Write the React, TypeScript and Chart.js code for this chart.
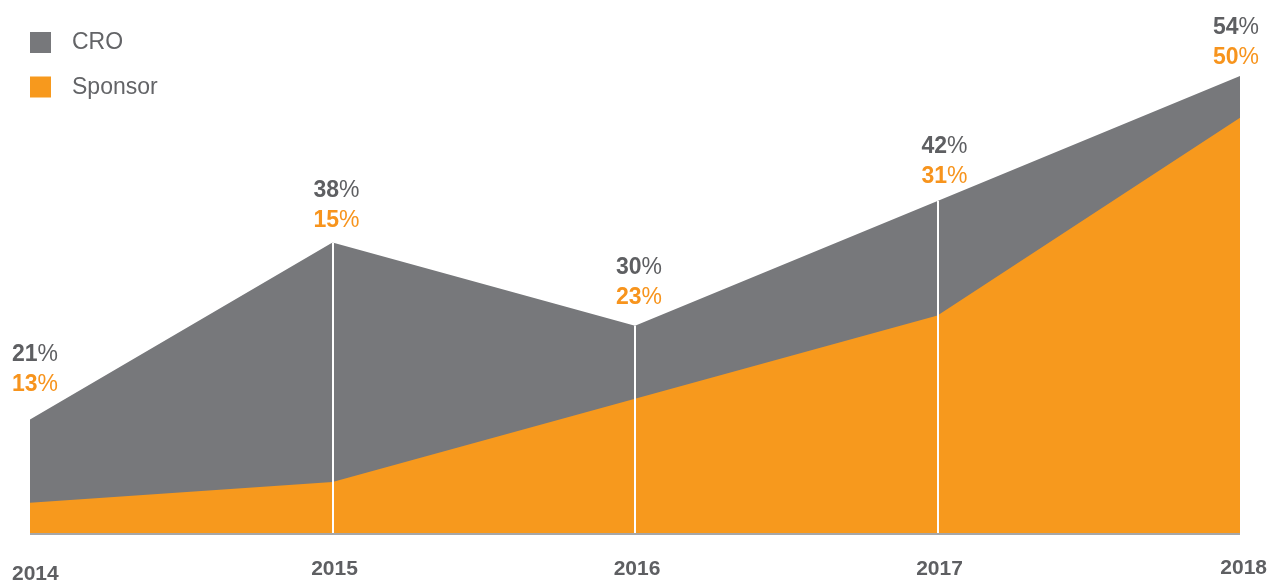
import React, { useEffect, useRef } from "react";
import { Chart, registerables } from "chart.js";

Chart.register(...registerables);

const years = ["2014", "2015", "2016", "2017", "2018"];
const croValues = [21, 38, 30, 42, 54];
const sponsorValues = [13, 15, 23, 31, 50];
const seriesNames = ["CRO", "Sponsor"];

const GRAY = "#77787b";
const ORANGE = "#f7991d";
const TEXT_GRAY = "#5e5f62";
const TEXT_ORANGE = "#f7941d";
const FONT = "'Liberation Sans', Arial, sans-serif";

// pixel nudges for value labels (style only)
const labelDx = [-18, 4, 4, 7, 19];
const labelDy = [-29, -16, -22, -18, -12];

const decorPlugin = {
  id: "decor",
  afterDatasetsDraw(chart: any) {
    const ctx = chart.ctx;
    const area = chart.chartArea;
    const xScale = chart.scales.x;
    const yScale = chart.scales.y;
    const n = years.length;

    ctx.save();
    // white separators
    ctx.strokeStyle = "#ffffff";
    ctx.lineWidth = 2;
    for (let i = 1; i < n - 1; i++) {
      const x = Math.round(xScale.getPixelForValue(i));
      const yTop = yScale.getPixelForValue(croValues[i]);
      ctx.beginPath();
      ctx.moveTo(x, yTop);
      ctx.lineTo(x, area.bottom);
      ctx.stroke();
    }
    // baseline
    ctx.strokeStyle = "#a6a7a9";
    ctx.lineWidth = 2;
    ctx.beginPath();
    ctx.moveTo(area.left, area.bottom + 1);
    ctx.lineTo(area.right, area.bottom + 1);
    ctx.stroke();

    // value labels
    const numFont = `bold 23px ${FONT}`;
    const pctFont = `23px ${FONT}`;
    const drawPair = (num: string, color: string, xAnchor: number, y: number, align: string) => {
      ctx.font = numFont;
      const wn = ctx.measureText(num).width;
      ctx.font = pctFont;
      const wp = ctx.measureText("%").width;
      const total = wn + wp;
      let x0 = xAnchor;
      if (align === "center") x0 = xAnchor - total / 2;
      else if (align === "right") x0 = xAnchor - total;
      ctx.textAlign = "left";
      ctx.textBaseline = "alphabetic";
      ctx.fillStyle = color;
      ctx.font = numFont;
      ctx.fillText(num, x0, y);
      ctx.font = pctFont;
      ctx.fillText("%", x0 + wn, y);
    };
    for (let i = 0; i < n; i++) {
      const x = xScale.getPixelForValue(i) + labelDx[i];
      const yTop = yScale.getPixelForValue(croValues[i]);
      const align = i === 0 ? "left" : i === n - 1 ? "right" : "center";
      const yOrange = yTop + labelDy[i];
      drawPair(String(sponsorValues[i]), TEXT_ORANGE, x, yOrange, align);
      drawPair(String(croValues[i]), TEXT_GRAY, x, yOrange - 29.5, align);
    }

    // year labels
    ctx.font = `bold 21px ${FONT}`;
    ctx.fillStyle = TEXT_GRAY;
    ctx.textBaseline = "alphabetic";
    for (let i = 0; i < n; i++) {
      const xp = xScale.getPixelForValue(i);
      if (i === 0) {
        ctx.textAlign = "left";
        ctx.fillText(years[i], xp - 18, area.bottom + 47);
      } else if (i === n - 1) {
        ctx.textAlign = "right";
        ctx.fillText(years[i], xp + 27, area.bottom + 41);
      } else {
        ctx.textAlign = "center";
        ctx.fillText(years[i], xp + 2, area.bottom + 42);
      }
    }

    // legend
    const colors = [GRAY, ORANGE];
    ctx.font = `23px ${FONT}`;
    ctx.textAlign = "left";
    ctx.textBaseline = "middle";
    for (let k = 0; k < seriesNames.length; k++) {
      const cy = 42 + k * 44.5;
      ctx.fillStyle = colors[k];
      ctx.fillRect(area.left, cy - 10, 21, 21);
      ctx.fillStyle = "#636467";
      ctx.fillText(seriesNames[k], area.left + 42, cy + 1);
    }
    ctx.restore();
  },
};

export default function App() {
  const canvasRef = useRef<HTMLCanvasElement | null>(null);

  useEffect(() => {
    document.body.style.margin = "0";
    const canvas = canvasRef.current;
    if (!canvas) return;
    const chart = new Chart(canvas, {
      type: "line",
      data: {
        labels: years,
        datasets: [
          {
            label: seriesNames[0],
            data: croValues,
            backgroundColor: GRAY,
            borderWidth: 0,
            pointRadius: 0,
            fill: "start",
            tension: 0,
            order: 1,
          },
          {
            label: seriesNames[1],
            data: sponsorValues,
            backgroundColor: ORANGE,
            borderWidth: 0,
            pointRadius: 0,
            fill: "start",
            tension: 0,
            order: 0,
          },
        ],
      },
      options: {
        animation: false,
        responsive: false,
        devicePixelRatio: 1,
        layout: { padding: { left: 30, right: 31, top: 0, bottom: 47 } },
        plugins: {
          legend: { display: false },
          tooltip: { enabled: false },
        },
        scales: {
          x: { display: false, offset: false },
          y: { display: false, min: 10.1, max: 61.3 },
        },
      },
      plugins: [decorPlugin],
    });
    return () => chart.destroy();
  }, []);

  return (
    <div style={{ position: "absolute", left: 0, top: 0, width: 1271, height: 580, background: "#ffffff" }}>
      <canvas ref={canvasRef} width={1271} height={580} />
    </div>
  );
}
